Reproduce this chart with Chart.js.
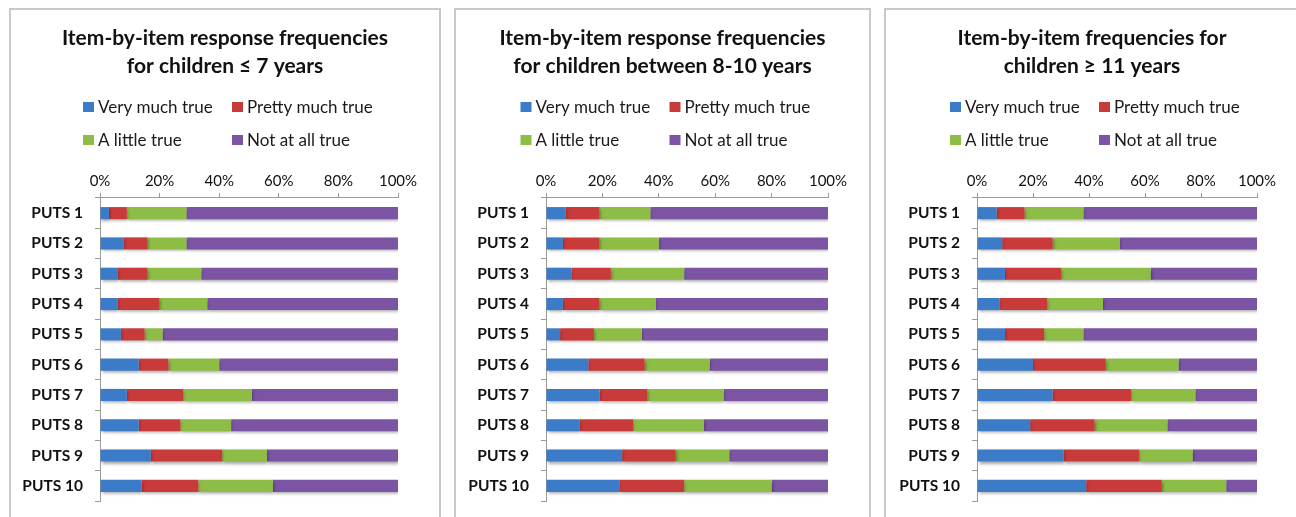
<!DOCTYPE html>
<html>
<head>
<meta charset="utf-8">
<script src="https://cdn.jsdelivr.net/npm/chart.js@4/dist/chart.umd.min.js"></script>
<style>
    body { margin: 0; background: #fff; width: 1296px; height: 517px; overflow: hidden; position: relative; }
    .panel { position: absolute; top: 8px; height: 520px; border: 2px solid #c8c8c8; box-sizing: border-box; background: #fff; }
    .panel canvas { display: block; }
</style>
</head>
<body>
<div class="panel" id="p1" style="left:9px;width:432px;"><canvas></canvas></div>
<div class="panel" id="p2" style="left:454px;width:417px;"><canvas></canvas></div>
<div class="panel" id="p3" style="left:884px;width:416px;"><canvas></canvas></div>
<script>
// categories and tick labels
const categories = ['PUTS 1', 'PUTS 2', 'PUTS 3', 'PUTS 4', 'PUTS 5', 'PUTS 6', 'PUTS 7', 'PUTS 8', 'PUTS 9', 'PUTS 10'];
const seriesNames = ['Very much true', 'Pretty much true', 'A little true', 'Not at all true'];
const tickValues = [0, 20, 40, 60, 80, 100];

// children <= 7 years
const veryMuch7 = [3, 8, 6, 6, 7, 13, 9, 13, 17, 14];
const prettyMuch7 = [6, 8, 10, 14, 8, 10, 19, 14, 24, 19];
const aLittle7 = [20, 13, 18, 16, 6, 17, 23, 17, 15, 25];
const notAtAll7 = [71, 71, 66, 64, 79, 60, 49, 56, 44, 42];

// children 8-10 years
const veryMuch810 = [7, 6, 9, 6, 5, 15, 19, 12, 27, 26];
const prettyMuch810 = [12, 13, 14, 13, 12, 20, 17, 19, 19, 23];
const aLittle810 = [18, 21, 26, 20, 17, 23, 27, 25, 19, 31];
const notAtAll810 = [63, 60, 51, 61, 66, 42, 37, 44, 35, 20];

// children >= 11 years
const veryMuch11 = [7, 9, 10, 8, 10, 20, 27, 19, 31, 39];
const prettyMuch11 = [10, 18, 20, 17, 14, 26, 28, 23, 27, 27];
const aLittle11 = [21, 24, 32, 20, 14, 26, 23, 26, 19, 23];
const notAtAll11 = [62, 49, 38, 55, 62, 28, 22, 32, 23, 11];

const colors = ['#3b7bc8', '#c93a3a', '#8ebd45', '#7b55a4'];
const fontFamily = 'Lato, "Open Sans", sans-serif';

// soft Excel-like shadow under the bars
const barShadow = {
    id: 'barShadow',
    beforeDatasetsDraw(chart) {
        const ctx = chart.ctx;
        ctx.save();
        ctx.shadowColor = 'rgba(0,0,0,0.35)';
        ctx.shadowBlur = 3;
        ctx.shadowOffsetX = 1;
        ctx.shadowOffsetY = 2;
    },
    afterDatasetsDraw(chart) {
        chart.ctx.restore();
    }
};

// two-column legend drawn between title and axis
const gridLegend = {
    id: 'gridLegend',
    afterDraw(chart) {
        const ctx = chart.ctx;
        const xTop = chart.scales.x.top;
        const mid = chart.width / 2;
        const cols = [mid - 142, mid + 7];
        const rows = [xTop - 51, xTop - 18];
        ctx.save();
        ctx.font = '17px ' + fontFamily;
        ctx.textBaseline = 'middle';
        ctx.textAlign = 'left';
        chart.data.datasets.forEach((ds, i) => {
            let x = cols[i % 2];
            let y = rows[Math.floor(i / 2)];
            ctx.fillStyle = ds.backgroundColor;
            ctx.fillRect(x, y - 5, 11, 10);
            ctx.fillStyle = '#1a1a1a';
            ctx.fillText(ds.label, x + 15, y + 1);
        });
        ctx.restore();
    }
};

function makeChart(id, title, seriesData, yWidth) {
    let canvas = document.querySelector('#' + id + ' canvas');
    return new Chart(canvas, {
        type: 'bar',
        data: {
            labels: categories,
            datasets: seriesData.map((d, i) => ({
                label: seriesNames[i],
                data: d,
                backgroundColor: colors[i],
                borderWidth: 0,
                barPercentage: 0.4,
                categoryPercentage: 1,
            }))
        },
        options: {
            indexAxis: 'y',
            responsive: true,
            maintainAspectRatio: false,
            animation: false,
            layout: { padding: { top: 0, right: 0, bottom: 25, left: 0 } },
            plugins: {
                legend: { display: false },
                tooltip: { enabled: false },
                title: {
                    display: true,
                    text: title,
                    color: '#111',
                    font: { family: fontFamily, size: 21, weight: 'bold', lineHeight: 1.333 },
                    padding: { top: 14, bottom: 78 },
                },
            },
            scales: {
                x: {
                    position: 'top',
                    stacked: true,
                    min: 0,
                    max: 100,
                    afterBuildTicks: (scale) => { scale.ticks = tickValues.map(v => ({ value: v })); },
                    afterFit: (scale) => { scale.height = 40; },
                    ticks: {
                        color: '#111',
                        padding: 3,
                        font: { family: fontFamily, size: 15 },
                        callback: (v) => v + '%',
                    },
                    grid: { drawOnChartArea: false, drawTicks: true, tickLength: 5, color: '#9a9a9a' },
                    border: { color: '#9a9a9a', width: 1 },
                },
                y: {
                    stacked: true,
                    afterFit: (scale) => { scale.width = yWidth; },
                    ticks: {
                        color: '#111',
                        padding: 12,
                        font: { family: fontFamily, size: 15.5, weight: 'bold' },
                    },
                    grid: { drawOnChartArea: false, drawTicks: true, tickLength: 5, color: '#9a9a9a' },
                    border: { color: '#9a9a9a', width: 1 },
                },
                // empty strip on the right so the title stays centred on the panel
                rightGap: {
                    type: 'linear',
                    axis: 'y',
                    position: 'right',
                    ticks: { display: false },
                    grid: { display: false },
                    border: { display: false },
                    afterFit: (scale) => { scale.width = 41; },
                }
            }
        },
        plugins: [barShadow, gridLegend]
    });
}

makeChart('p1', ['Item-by-item response frequencies', 'for children \u2264 7 years'],
    [veryMuch7, prettyMuch7, aLittle7, notAtAll7], 89);
makeChart('p2', ['Item-by-item response frequencies', 'for children between 8-10 years'],
    [veryMuch810, prettyMuch810, aLittle810, notAtAll810], 90);
makeChart('p3', ['Item-by-item frequencies for', 'children \u2265 11 years'],
    [veryMuch11, prettyMuch11, aLittle11, notAtAll11], 91);
</script>
</body>
</html>
